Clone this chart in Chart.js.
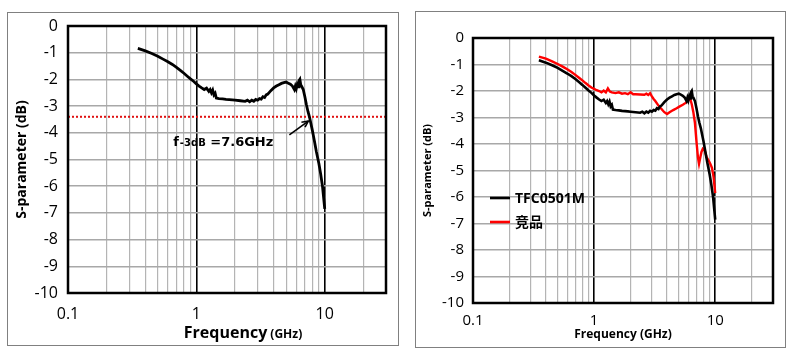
<!DOCTYPE html>
<html><head><meta charset="utf-8">
<script src="https://cdn.jsdelivr.net/npm/chart.js@4.4.1/dist/chart.umd.min.js"></script>
<style>
html,body{margin:0;padding:0;background:#fff;width:786px;height:354px;overflow:hidden;}
.box{position:absolute;border:1px solid #808080;box-sizing:border-box;}
canvas{position:absolute;}
</style></head><body>
<div class="box" style="left:7px;top:12px;width:392px;height:334px"></div>
<div class="box" style="left:415px;top:11px;width:371px;height:337px"></div>
<canvas id="c1" width="400" height="354" style="left:0;top:0;width:400px;height:354px"></canvas>
<canvas id="c2" width="386" height="354" style="left:400px;top:0;width:386px;height:354px"></canvas>
<script>
// ---- data ----
const xGridTicks = [0.1,0.2,0.3,0.4,0.5,0.6,0.7,0.8,0.9,1,2,3,4,5,6,7,8,9,10,20,30];
const xLabelTicks = [0.1,1,10];
const xMin = 0.1, xMax = 30;
const yMin = -10, yMax = 0;
const seriesNames = ['TFC0501M','竞品'];

const freqA = [0.35,0.4,0.45,0.5,0.55,0.6,0.65,0.7,0.75,0.8,0.85,0.9,0.95,1.0,1.05,1.1,1.15,1.2,1.25,1.28,1.31,1.34,1.37,1.40,1.43,1.5,1.6,1.7,1.8,1.9,2.0,2.2,2.4,2.5,2.6,2.7,2.8,2.9,3.0,3.1,3.2,3.3,3.4,3.5,3.6,3.8,4.0,4.2,4.4,4.6,4.8,5.0,5.2,5.4,5.6,5.8,5.9,6.0,6.1,6.2,6.3,6.4,6.5,6.6,6.8,7.0,7.2,7.4,7.6,7.8,8.0,8.3,8.6,9.0,9.3,9.6,10.0];
const dbA   = [-0.84,-0.93,-1.03,-1.13,-1.24,-1.34,-1.44,-1.55,-1.66,-1.77,-1.88,-1.98,-2.07,-2.17,-2.25,-2.32,-2.38,-2.33,-2.45,-2.38,-2.50,-2.40,-2.58,-2.52,-2.70,-2.72,-2.73,-2.75,-2.76,-2.77,-2.78,-2.80,-2.82,-2.78,-2.84,-2.78,-2.82,-2.75,-2.78,-2.72,-2.74,-2.65,-2.68,-2.58,-2.55,-2.42,-2.32,-2.25,-2.20,-2.15,-2.12,-2.10,-2.14,-2.18,-2.25,-2.38,-2.25,-2.35,-2.20,-2.28,-2.05,-2.00,-2.20,-2.25,-2.38,-2.65,-2.95,-3.20,-3.40,-3.65,-3.90,-4.30,-4.70,-5.15,-5.55,-6.00,-6.85];

const freqB = [0.35,0.4,0.45,0.5,0.55,0.6,0.65,0.7,0.75,0.8,0.85,0.9,0.95,1.0,1.05,1.1,1.15,1.2,1.25,1.3,1.35,1.4,1.5,1.6,1.7,1.8,1.9,2.0,2.1,2.2,2.4,2.6,2.7,2.8,2.9,3.0,3.1,3.2,3.4,3.6,3.8,4.0,4.2,4.5,4.8,5.1,5.4,5.7,6.0,6.2,6.4,6.6,6.8,7.0,7.2,7.35,7.5,7.7,7.9,8.2,8.5,8.8,9.1,9.4,9.7,10.0];
const dbB   = [-0.70,-0.78,-0.88,-0.98,-1.08,-1.18,-1.28,-1.39,-1.50,-1.60,-1.70,-1.79,-1.87,-1.92,-1.97,-2.00,-2.05,-1.98,-2.05,-1.90,-2.02,-2.05,-2.08,-2.05,-2.10,-2.08,-2.12,-2.05,-2.12,-2.12,-2.13,-2.14,-2.10,-2.15,-2.08,-2.20,-2.30,-2.38,-2.55,-2.68,-2.80,-2.87,-2.80,-2.72,-2.65,-2.58,-2.52,-2.45,-2.35,-2.28,-2.50,-2.80,-3.20,-3.90,-4.50,-4.75,-4.55,-4.30,-4.18,-4.25,-4.50,-4.62,-4.75,-4.90,-5.25,-5.85];

const cutoffLevel = -3.4;
const cutoffText = ['f', '-3dB', ' =7.6GHz'];

const pts = (xs, ys) => xs.map((x, i) => ({x, y: ys[i]}));
const FONT = "'Open Sans','Noto Sans','Noto Sans CJK SC',sans-serif";
const WIDE = "'DejaVu Sans',sans-serif";

const framePlugin = {
  id: 'frame',
  afterDraw(chart) {
    const {ctx, chartArea: a} = chart;
    ctx.save();
    ctx.strokeStyle = '#000';
    ctx.lineWidth = 2.5;
    ctx.strokeRect(a.left, a.top, a.right - a.left, a.bottom - a.top);
    ctx.restore();
  }
};

function makeOptions(c) {
  return {
    responsive: false, animation: false, devicePixelRatio: 1,
    layout: {padding: c.padding},
    plugins: {legend: {display: false}, tooltip: {enabled: false}},
    scales: {
      x: {
        type: 'logarithmic', min: xMin, max: xMax,
        afterBuildTicks: s => { s.ticks = xGridTicks.map(v => ({value: v})); },
        afterFit: s => { s.height = c.xHeight; },
        ticks: {
          autoSkip: false, maxRotation: 0, padding: c.xTickPad,
          color: '#000', font: {family: FONT, size: c.tickSize},
          callback: v => xLabelTicks.includes(v) ? String(v) : ''
        },
        grid: {
          drawTicks: false,
          color: ctx => (ctx.tick && (ctx.tick.value === 1 || ctx.tick.value === 10)) ? '#000' : '#b4b4b4',
          lineWidth: ctx => (ctx.tick && (ctx.tick.value === 1 || ctx.tick.value === 10)) ? 1.6 : 1.2
        },
        border: {display: false},
        title: c.xTitle
      },
      y: {
        min: yMin, max: yMax,
        afterFit: s => { s.width = c.yWidth; },
        ticks: {stepSize: 1, padding: c.yTickPad, color: '#000', font: {family: FONT, size: c.tickSize}},
        grid: {drawTicks: false, color: '#a8a8a8', lineWidth: 1.5},
        border: {display: false},
        title: c.yTitle
      }
    }
  };
}

// ---- left chart ----
const leftExtras = {
  id: 'leftExtras',
  afterDraw(chart) {
    const {ctx, scales: {x, y}} = chart;
    ctx.save();
    // arrow
    const x0 = x.getPixelForValue(5.3), y0 = y.getPixelForValue(-4.08);
    const x1 = x.getPixelForValue(7.45), y1 = y.getPixelForValue(-3.56);
    ctx.strokeStyle = '#000'; ctx.fillStyle = '#000'; ctx.lineWidth = 1.6;
    ctx.beginPath(); ctx.moveTo(x0, y0); ctx.lineTo(x1, y1); ctx.stroke();
    const ang = Math.atan2(y1 - y0, x1 - x0), L = 7;
    ctx.beginPath();
    ctx.moveTo(x1 - L * Math.cos(ang - 0.45), y1 - L * Math.sin(ang - 0.45));
    ctx.lineTo(x1, y1);
    ctx.lineTo(x1 - L * Math.cos(ang + 0.45), y1 - L * Math.sin(ang + 0.45));
    ctx.stroke();
    // label
    let tx = x.getPixelForValue(0.66); const ty = y.getPixelForValue(-4.49);
    ctx.textBaseline = 'alphabetic'; ctx.textAlign = 'left';
    const sizes = [13, 10, 13];
    cutoffText.forEach((t, i) => {
      ctx.font = `bold ${sizes[i]}px ${WIDE}`;
      ctx.fillText(t, tx, ty);
      tx += ctx.measureText(t).width + (i === 0 ? 1 : 0);
    });
    // x title with mixed sizes
    const parts = [['Frequency', 16], [' (GHz)', 12]];
    let w = 0;
    parts.forEach(([t, s]) => { ctx.font = `bold ${s}px ${FONT}`; w += ctx.measureText(t).width; });
    let px = 243 - w / 2;
    parts.forEach(([t, s]) => { ctx.font = `bold ${s}px ${FONT}`; ctx.fillText(t, px, 338); px += ctx.measureText(t).width; });
    ctx.restore();
  }
};

new Chart(document.getElementById('c1'), {
  type: 'line',
  data: {datasets: [
    {label: seriesNames[0], data: pts(freqA, dbA), borderColor: '#000', borderWidth: 2.8, pointRadius: 0, tension: 0},
    {label: 'f-3dB', data: pts([xMin, xMax], [cutoffLevel, cutoffLevel]), borderColor: '#e01010', borderWidth: 2, borderDash: [2, 2], pointRadius: 0}
  ]},
  options: makeOptions({
    padding: {top: 26, right: 14, left: 0, bottom: 0},
    xHeight: 61, yWidth: 68, tickSize: 16, xTickPad: 12, yTickPad: 10,
    xTitle: {display: false},
    yTitle: {display: true, text: 'S-parameter (dB)', color: '#000', font: {family: FONT, size: 14, weight: 'bold'}, padding: {top: 14, bottom: 0}}
  }),
  plugins: [framePlugin, leftExtras]
});

// ---- right chart ----
const legendPlugin = {
  id: 'inlineLegend',
  afterDraw(chart) {
    const {ctx, chartArea: a} = chart;
    ctx.save();
    chart.data.datasets.forEach((ds, i) => {
      const yy = a.top + 160 + i * 24;
      ctx.strokeStyle = ds.borderColor; ctx.lineWidth = 2.6;
      ctx.beginPath(); ctx.moveTo(a.left + 17, yy); ctx.lineTo(a.left + 37, yy); ctx.stroke();
      ctx.fillStyle = '#000'; ctx.font = `bold 14px ${FONT}`;
      ctx.textBaseline = 'middle'; ctx.textAlign = 'left';
      ctx.fillText(ds.label, a.left + 42, yy + 1);
    });
    ctx.restore();
  }
};

new Chart(document.getElementById('c2'), {
  type: 'line',
  data: {datasets: [
    {label: seriesNames[0], data: pts(freqA, dbA), borderColor: '#000', borderWidth: 2.6, pointRadius: 0, tension: 0},
    {label: seriesNames[1], data: pts(freqB, dbB), borderColor: '#ff0000', borderWidth: 2.4, pointRadius: 0, tension: 0}
  ]},
  options: makeOptions({
    padding: {top: 38, right: 13, left: 0, bottom: 0},
    xHeight: 51, yWidth: 73, tickSize: 15, xTickPad: 9, yTickPad: 9,
    xTitle: {display: true, text: 'Frequency (GHz)', color: '#000', font: {family: FONT, size: 12, weight: 'bold'}, padding: {top: 0, bottom: 12}},
    yTitle: {display: true, text: 'S-parameter (dB)', color: '#000', font: {family: FONT, size: 11, weight: 'bold'}, padding: {top: 21, bottom: 0}}
  }),
  plugins: [framePlugin, legendPlugin]
});
</script>
</body></html>
